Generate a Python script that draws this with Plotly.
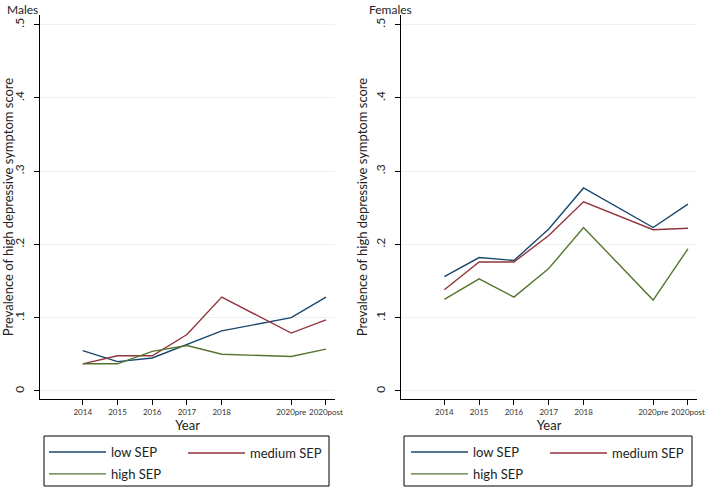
import plotly.graph_objects as go

years = ["2014", "2015", "2016", "2017", "2018", "2020pre", "2020post"]
year_pos = [1, 2, 3, 4, 5, 7, 8]

males_low = [0.055, 0.040, 0.045, 0.063, 0.082, 0.100, 0.128]
males_medium = [0.037, 0.048, 0.048, 0.077, 0.128, 0.079, 0.097]
males_high = [0.037, 0.037, 0.054, 0.062, 0.050, 0.047, 0.057]

females_low = [0.156, 0.182, 0.178, 0.221, 0.277, 0.223, 0.255]
females_medium = [0.138, 0.176, 0.176, 0.212, 0.258, 0.220, 0.222]
females_high = [0.125, 0.153, 0.128, 0.167, 0.223, 0.124, 0.194]

y_ticks = [0, 0.1, 0.2, 0.3, 0.4, 0.5]
y_ticktext = ["0", ".1", ".2", ".3", ".4", ".5"]

series_names = ["low SEP", "medium SEP", "high SEP"]
colors = ["#1a476f", "#90353b", "#55752f"]

FONT = "Lato"
fig = go.Figure()

panels = [
    ("m", "x", "y", [males_low, males_medium, males_high], ["legend", "legend2", "legend"]),
    ("f", "x2", "y2", [females_low, females_medium, females_high], ["legend3", "legend4", "legend3"]),
]
for tag, xa, ya, vals, legs in panels:
    for name, v, c, lg in zip(series_names, vals, colors, legs):
        fig.add_trace(go.Scatter(
            x=year_pos, y=v, mode="lines", name=name,
            line=dict(color=c, width=1.4), xaxis=xa, yaxis=ya,
            legend=lg, legendgroup=tag + name, showlegend=True, hoverinfo="skip"))

W, H = 708, 488
def px(x):
    return x / W
def py(y):
    return 1 - y / H

ydom = [py(399), py(15)]
xaxis_common = dict(
    tickvals=year_pos, ticktext=years, tickangle=0, showline=True, linecolor="#000000", linewidth=1,
    ticks="outside", ticklen=5, tickcolor="#000000", showgrid=False, zeroline=False,
    automargin=False,
    tickfont=dict(family=FONT, size=8, color="#333333"),
    title=dict(text="Year", font=dict(family=FONT, size=13, color="#222222"), standoff=2),
)
yaxis_common = dict(
    range=[-0.011, 0.513], tickvals=y_ticks, ticktext=y_ticktext, tickangle=-90,
    showline=True, linecolor="#000000", linewidth=1, ticks="outside", ticklen=5,
    tickcolor="#000000", showgrid=True, gridcolor="#eaf2f3", gridwidth=1, zeroline=False,
    automargin=False,
    tickfont=dict(family=FONT, size=12, color="#222222"), ticklabelstandoff=5,
    title=dict(text="Prevalence of high depressive symptom score",
               font=dict(family=FONT, size=13, color="#222222"), standoff=2),
)

leg_common = dict(orientation="v", bgcolor="rgba(0,0,0,0)", borderwidth=0,
                  font=dict(family=FONT, size=13, color="#222222"),
                  xanchor="left", yanchor="bottom", itemwidth=57, tracegroupgap=2)

LEG2_Y = py(489)
LEG1_Y = py(468)
fig.update_layout(
    width=W, height=H, margin=dict(l=0, r=0, t=0, b=0, autoexpand=False),
    paper_bgcolor="white", plot_bgcolor="white",
    font=dict(family=FONT, color="#222222"),
    xaxis=dict(domain=[px(40), px(335)], range=[-0.23, 8.26], anchor="y", **xaxis_common),
    yaxis=dict(domain=ydom, anchor="x", **yaxis_common),
    xaxis2=dict(domain=[px(401), px(697)], range=[-0.245, 8.26], anchor="y2", **xaxis_common),
    yaxis2=dict(domain=ydom, anchor="x2", **yaxis_common),
    legend=dict(x=px(44), y=LEG2_Y, **leg_common),
    legend2=dict(x=px(183), y=LEG1_Y, **leg_common),
    legend3=dict(x=px(406), y=LEG2_Y, **leg_common),
    legend4=dict(x=px(545), y=LEG1_Y, **leg_common),
    shapes=[
        dict(type="rect", xref="paper", yref="paper", x0=px(44), x1=px(329), y0=py(486), y1=py(436),
             line=dict(color="#000000", width=1), fillcolor="rgba(0,0,0,0)"),
        dict(type="rect", xref="paper", yref="paper", x0=px(404), x1=px(692), y0=py(486), y1=py(436),
             line=dict(color="#000000", width=1), fillcolor="rgba(0,0,0,0)"),
    ],
    annotations=[
        dict(text="Males", xref="paper", yref="paper", x=px(5), y=py(0), xanchor="left", yanchor="top",
             showarrow=False, font=dict(family=FONT, size=12, color="#222222")),
        dict(text="Females", xref="paper", yref="paper", x=px(367), y=py(0), xanchor="left", yanchor="top",
             showarrow=False, font=dict(family=FONT, size=12, color="#222222")),
    ],
    showlegend=True,
)

fig.write_html(
    "out.html",
    config={"displayModeBar": False},
    post_script="document.body.style.margin='0';document.body.style.overflow='hidden';",
)
